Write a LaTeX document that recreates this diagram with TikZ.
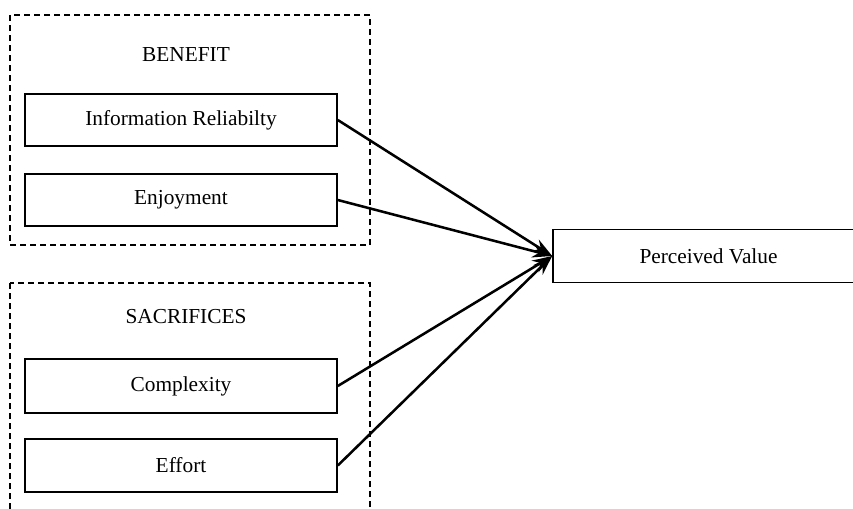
\documentclass[tikz,border=0pt]{standalone}
\usepackage{fontspec}
\setmainfont{Liberation Serif}
\usetikzlibrary{arrows.meta}
\begin{document}
\begin{tikzpicture}[x=0.75pt,y=-0.75pt,
  box/.style={draw,line width=1.2pt,rectangle,minimum width=312*0.75pt,inner sep=0pt,font=\fontsize{16}{19}\selectfont},
  group/.style={draw,line width=1.1pt,dash pattern=on 4.5pt off 3pt},
  lbl/.style={font=\fontsize{16}{19}\selectfont,inner sep=0pt},
  conn/.style={line width=1.9pt,-{Stealth[length=15pt,width=10pt,inset=5pt]}}]
\useasboundingbox (0,0) rectangle (853,508);
\clip (0,0) rectangle (853,508);
\draw[group] (10,15) rectangle (370,245);
\draw[group] (10,283) rectangle (370,530);
\node[lbl] (ben) at (186,54.5) {BENEFIT};
\node[lbl] (sac) at (186,316.5) {SACRIFICES};
\node[box,minimum height=52*0.75pt] (info) at (181,120) {Information Reliabilty};
\node[box,minimum height=52*0.75pt] (enj) at (181,200) {Enjoyment};
\node[box,minimum height=54*0.75pt] (comp) at (181,386) {Complexity};
\node[box,minimum height=53*0.75pt] (eff) at (181,465.5) {Effort};
\node[box,minimum width=311*0.75pt,minimum height=53*0.75pt] (pv) at (708.5,256) {Perceived Value};
\draw[conn] (info.east) -- (pv.west);
\draw[conn] (enj.east) -- (pv.west);
\draw[conn] (comp.east) -- (pv.west);
\draw[conn] (eff.east) -- (pv.west);
\end{tikzpicture}
\end{document}
